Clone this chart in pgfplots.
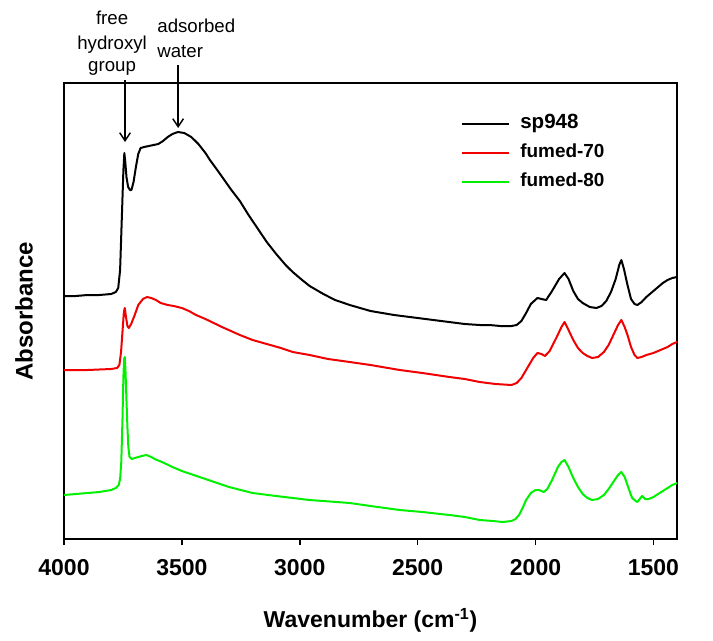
\documentclass[border=0pt]{standalone}
\usepackage{fontspec}
\setmainfont{Liberation Sans}
\usepackage{pgfplots}
\pgfplotsset{compat=1.18}
\usetikzlibrary{arrows.meta}
\definecolor{lgreen}{RGB}{0,240,0}
\definecolor{pred}{RGB}{240,0,0}
\begin{document}
\begin{tikzpicture}
\useasboundingbox (-48pt,-75.75pt) rectangle (486.75pt,404.25pt);
\begin{axis}[
  at={(0,0)}, anchor=south west,
  scale only axis, width=459.75pt, height=342pt,
  x dir=reverse, xmin=1400, xmax=4000, ymin=-2, ymax=454,
  xtick={1500,2000,2500,3000,3500,4000}, ytick=\empty,
  xtick pos=bottom, tick align=outside, major tick length=4.5pt,
  axis line style={line width=1.2pt}, every tick/.style={line width=1.2pt, black},
  /pgf/number format/assume math mode=true,
  /pgf/number format/set thousands separator={},
  xticklabel style={font=\bfseries\fontsize{17.25}{20}\selectfont, yshift=-7pt},
  xlabel={Wavenumber (cm\textsuperscript{-1})},
  xlabel style={font=\bfseries\fontsize{17.25}{20}\selectfont, at={(axis description cs:0.5,-0.195)}, anchor=base},
  ylabel={Absorbance},
  ylabel style={font=\bfseries\fontsize{18}{20}\selectfont, at={(axis description cs:-0.065,0.5)}, anchor=center},
  clip=false,
  legend cell align=left,
  legend style={draw=none, fill=none, inner sep=0pt, outer sep=0pt,
    at={(axis description cs:0.6476,0.932)}, anchor=north west,
    row sep=6.75pt, column sep=8pt,
    nodes={inner sep=0pt, text height=11pt, text depth=4pt, font=\bfseries}},
  legend image code/.code={\draw[#1, line width=1.5pt] (0pt,0pt) -- (35pt,0pt);},
  every axis plot/.append style={line width=1.5pt, line join=round},
]
\addplot[black] table {
4000 241
3950 241
3900 242
3850 242
3800 243
3780 245
3770 249
3762 267
3755 317
3748 367
3744 384
3740 375
3735 360
3728 350
3720 347
3714 347
3705 355
3695 370
3685 383
3675 389
3660 390
3640 391
3620 392
3600 393
3580 396
3560 400
3540 403
3517 405
3490 404
3460 400
3430 393
3400 384
3381 377
3350 367
3320 357
3290 347
3254 336
3220 323
3180 309
3140 295
3100 283
3060 272
3030 265
2990 257
2958 251
2900 243
2850 237
2788 232
2700 226
2600 222
2500 219
2400 216
2300 213
2237 212
2195 212
2150 211
2102 211
2080 212
2060 216
2040 224
2020 233
1992 239
1975 238
1955 237
1930 246
1900 258
1877 264
1860 258
1840 246
1820 238
1800 234
1770 230
1742 229
1720 231
1700 236
1680 245
1660 258
1645 272
1636 277
1625 268
1610 252
1595 238
1580 233
1568 232
1550 235
1530 240
1500 246
1480 250
1460 254
1440 257
1420 259
1400 260
};
\addplot[pred] table {
4000 167
3900 167
3800 168
3775 169
3765 172
3758 185
3752 205
3746 225
3742 229
3737 220
3731 211
3725 209
3715 213
3700 222
3685 232
3665 238
3648 240
3630 239
3610 237
3590 234
3560 232
3535 231
3500 229
3470 226
3440 222
3400 218
3330 210
3254 202
3200 197
3140 193
3080 189
3030 185
2958 182
2880 178
2788 175
2700 172
2576 167
2480 164
2365 160
2300 158
2237 155
2170 153
2102 152
2080 154
2060 159
2045 165
2030 171
2010 179
1992 184
1975 183
1960 181
1940 186
1910 200
1890 210
1877 215
1860 207
1840 197
1820 189
1800 184
1780 181
1760 179
1735 180
1710 185
1690 192
1670 202
1650 212
1636 217
1622 210
1610 202
1595 190
1580 182
1568 179
1550 180
1530 182
1500 184
1480 186
1460 188
1440 190
1420 193
1400 195
};
\addplot[lgreen] table {
4000 42
3950 43
3900 44
3850 45
3800 47
3780 49
3768 52
3762 58
3757 75
3752 117
3748 160
3745 178
3742 180
3739 165
3735 137
3731 110
3727 90
3722 80
3712 78
3700 79
3685 80
3670 81
3650 82
3630 80
3615 78
3575 74
3540 70
3500 66
3450 62
3400 58
3350 54
3300 50
3250 47
3200 44
3100 41
3030 39
2960 37
2900 36
2788 34
2700 31
2576 27
2480 25
2365 22
2300 20
2237 17
2180 16
2140 15
2102 16
2085 18
2070 22
2055 29
2040 37
2020 44
2000 47
1985 47
1965 45
1950 48
1930 57
1905 70
1890 75
1877 77
1860 70
1840 59
1820 50
1800 43
1780 39
1760 37
1735 38
1710 42
1690 48
1670 55
1650 62
1636 65
1622 60
1610 52
1597 43
1590 39
1575 36
1568 35
1555 39
1548 41
1535 38
1520 38
1500 40
1480 43
1460 46
1440 49
1420 52
1400 54
};
\legend{{\fontsize{15.4}{17}\selectfont sp948},{\fontsize{14.2}{17}\selectfont fumed-70},{\fontsize{14.2}{17}\selectfont fumed-80}}
\draw[-{Straight Barb[length=6pt,width=8pt]}, line width=1.1pt] (axis cs:3741,457) -- (axis cs:3741,395);
\draw[-{Straight Barb[length=6pt,width=8pt]}, line width=1.1pt] (axis cs:3516,472) -- (axis cs:3516,409);
\node[anchor=base, inner sep=0pt, font=\fontsize{14}{17}\selectfont] at (axis cs:3796,512) {free};
\node[anchor=base, inner sep=0pt, font=\fontsize{14}{17}\selectfont] at (axis cs:3796,487) {hydroxyl};
\node[anchor=base, inner sep=0pt, font=\fontsize{14}{17}\selectfont] at (axis cs:3796,465) {group};
\node[anchor=base west, inner sep=0pt, font=\fontsize{14}{17}\selectfont] at (axis cs:3605,504) {adsorbed};
\node[anchor=base west, inner sep=0pt, font=\fontsize{14}{17}\selectfont] at (axis cs:3605,479) {water};
\end{axis}
\end{tikzpicture}
\end{document}
